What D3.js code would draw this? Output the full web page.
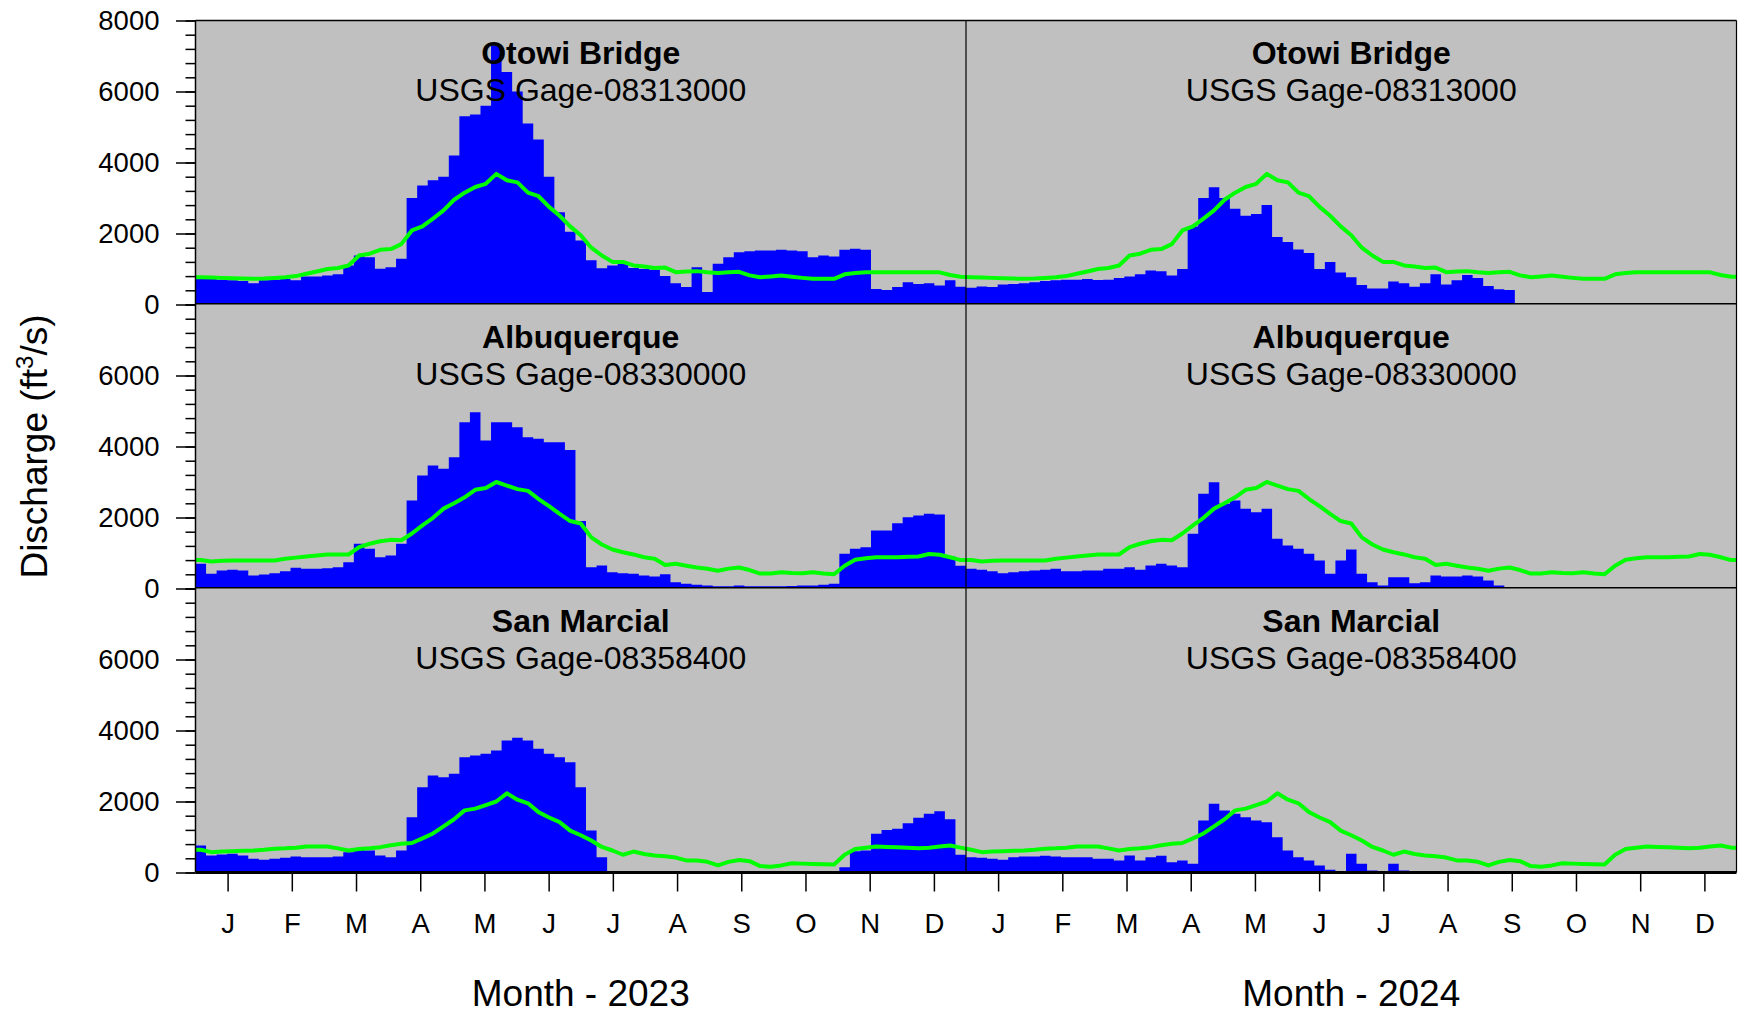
<!DOCTYPE html>
<html>
<head>
<meta charset="utf-8">
<script src="https://cdn.jsdelivr.net/npm/d3@7"></script>
<style>
  body { margin: 0; background: #fff; }
  svg { display: block; font-family: "Liberation Sans", Arial, sans-serif; }
</style>
</head>
<body>
<svg id="chart" width="1742" height="1016"></svg>
<script>
const years = ['2023', '2024'];
const months = ['J', 'F', 'M', 'A', 'M', 'J', 'J', 'A', 'S', 'O', 'N', 'D'];
const stations = ['Otowi Bridge', 'Albuquerque', 'San Marcial'];
const gages = ['USGS Gage-08313000', 'USGS Gage-08330000', 'USGS Gage-08358400'];
const yTicks = [0, 2000, 4000, 6000, 8000];

// 5-day discharge (ft3/s), 73 periods per year, null = no data
const otowi2023 = [720,720,700,680,660,600,680,700,720,680,
  790,790,820,850,1100,1380,1330,1010,1050,1290,
  3000,3350,3500,3600,4200,5300,5350,5600,7300,6550,
  6000,5100,4650,3600,2600,2050,1800,1250,1020,1100,
  1140,1030,1000,980,800,600,490,1050,350,1150,
  1330,1470,1500,1520,1520,1540,1520,1500,1330,1380,
  1350,1540,1570,1540,440,410,490,630,580,600,
  535,680,500];
const otowi2024 = [470,510,490,560,580,600,630,660,680,700,
  700,715,690,700,750,790,850,958,940,820,
  1000,2200,3000,3300,3000,2700,2500,2550,2800,1900,
  1760,1550,1450,1000,1200,900,770,550,450,450,
  650,600,500,600,850,560,680,830,750,520,
  430,410,null,null,null,null,null,null,null,null,
  null,null,null,null,null,null,null,null,null,null,
  null,null,null];
const albq2023 = [700,413,507,526,507,366,394,432,488,582,
  554,554,573,601,742,1258,1117,883,930,1258,
  2479,3183,3465,3371,3700,4686,4967,4169,4686,4686,
  4545,4263,4216,4122,4122,3900,1900,600,648,460,
  432,413,366,338,400,178,131,103,85,66,
  66,85,66,66,66,66,70,85,85,103,
  131,977,1117,1164,1634,1634,1840,2009,2056,2103,
  2085,900,640];
const albq2024 = [554,526,488,432,460,488,507,526,554,488,
  488,507,507,554,554,601,526,648,695,648,
  601,1540,2667,2995,2385,2479,2244,2150,2244,1399,
  1211,1117,977,789,413,789,1100,413,178,85,
  319,319,150,178,366,338,338,366,338,225,
  85,38,null,null,null,null,null,null,null,null,
  null,null,null,null,null,null,null,null,null,null,
  null,null,null];
const sanm2023 = [760,479,507,526,479,385,357,385,413,451,
  432,432,432,451,573,667,620,479,432,620,
  1559,2404,2732,2686,2779,3249,3296,3343,3437,3718,
  3794,3718,3484,3343,3249,3108,2404,1183,432,28,
  0,0,0,0,0,0,0,0,0,0,
  0,0,0,0,0,0,0,0,0,0,
  0,150,600,620,1089,1200,1230,1390,1540,1653,
  1728,1500,500];
const sanm2024 = [432,413,385,357,432,451,451,470,451,432,
  432,432,385,385,338,479,338,432,470,291,
  338,244,1465,1934,1747,1653,1559,1465,1418,995,
  620,432,338,197,75,9,526,244,56,0,
  244,56,10,0,0,0,0,0,0,0,
  0,0,null,null,null,null,null,null,null,null,
  null,null,null,null,null,null,null,null,null,null,
  null,null,null];

// long-term daily median (same curve drawn for each year), 5-day steps
const otowiMedian = [770,760,750,740,730,723,730,745,765,800,
  864,930,1000,1030,1100,1380,1430,1540,1560,1700,
  2085,2200,2420,2650,2950,3150,3310,3400,3680,3500,
  3440,3150,3050,2750,2500,2200,1950,1600,1380,1200,
  1200,1100,1070,1030,1040,910,930,940,910,890,
  910,920,820,770,790,815,780,750,725,723,
  723,850,890,910,910,910,910,910,910,910,
  905,830,780];
const albqMedian = [800,760,780,790,790,790,790,790,836,870,
  900,930,958,958,958,1164,1260,1330,1370,1360,
  1550,1780,1990,2250,2400,2570,2780,2830,3000,2900,
  2800,2750,2520,2320,2100,1900,1830,1440,1240,1100,
  1020,960,880,840,660,695,640,590,554,500,
  560,590,520,420,420,460,440,430,460,420,
  400,640,808,850,883,883,883,895,901,970,
  950,880,800];
const sanmMedian = [640,573,590,601,610,620,640,667,680,700,
  732,732,732,680,620,660,680,714,770,810,
  830,960,1100,1300,1500,1750,1800,1900,2000,2230,
  2050,1950,1700,1550,1418,1180,1050,900,720,620,
  500,590,520,480,460,420,340,338,300,200,
  300,350,320,180,160,200,260,250,240,230,
  225,500,660,700,732,720,714,700,685,700,
  732,760,700];

const flows = [[otowi2023, otowi2024], [albq2023, albq2024], [sanm2023, sanm2024]];
const medians = [otowiMedian, albqMedian, sanmMedian];

const plotLeft = 195.5, plotRight = 1736.5, plotTop = 20.5, panelH = 284;
const step = 5, yearDays = 365;
const plotBottom = plotTop + 3 * panelH;

const svg = d3.select('#chart');
const x = d3.scaleLinear().domain([0, 2 * yearDays]).range([plotLeft, plotRight]);

stations.forEach((name, k) => {
  const y0 = plotTop + k * panelH;
  const y = d3.scaleLinear().domain([0, 8000]).range([y0 + panelH, y0]);
  const g = svg.append('g');

  g.append('clipPath').attr('id', 'clip' + k)
    .append('rect').attr('x', plotLeft).attr('y', y0).attr('width', plotRight - plotLeft).attr('height', panelH);

  g.append('rect')
    .attr('x', plotLeft).attr('y', y0)
    .attr('width', plotRight - plotLeft).attr('height', panelH)
    .attr('fill', '#c0c0c0');

  // observed flow as steps
  const pts = [];
  flows[k].forEach((vals, j) => vals.forEach((v, i) => {
    const d = j * yearDays + i * step;
    pts.push({ d: d, v: v }, { d: Math.min(d + step, (j + 1) * yearDays), v: v });
  }));
  const area = d3.area()
    .defined(p => p.v != null)
    .x(p => x(p.d))
    .y0(y(0))
    .y1(p => y(p.v));
  g.append('path').datum(pts)
    .attr('clip-path', `url(#clip${k})`)
    .attr('fill', '#0000ff')
    .attr('d', area);

  // median line
  const med = [];
  years.forEach((yr, j) => medians[k].forEach((v, i) => {
    med.push({ d: j * yearDays + i * step + step / 2, v: v });
  }));
  med.unshift({ d: 0, v: medians[k][0] });
  med.push({ d: 2 * yearDays, v: medians[k][medians[k].length - 1] });
  const line = d3.line().x(p => x(p.d)).y(p => y(p.v));
  g.append('path').datum(med)
    .attr('clip-path', `url(#clip${k})`)
    .attr('fill', 'none')
    .attr('stroke', '#00ff00')
    .attr('stroke-width', 4)
    .attr('stroke-linejoin', 'round')
    .attr('d', line);

  // station titles
  years.forEach((yr, j) => {
    const cx = x(j * yearDays + yearDays / 2);
    g.append('text').attr('x', cx).attr('y', y0 + 43.5)
      .attr('text-anchor', 'middle').attr('font-size', 32).attr('font-weight', 'bold')
      .text(name);
    g.append('text').attr('x', cx).attr('y', y0 + 80)
      .attr('text-anchor', 'middle').attr('font-size', 32)
      .text(gages[k]);
  });

  // y axis, major and minor ticks
  const minor = g.append('g').attr('transform', `translate(${plotLeft},0)`)
    .call(d3.axisLeft(y).tickValues(d3.range(0, 8001, 400)).tickSize(10).tickFormat(''));
  const major = g.append('g').attr('transform', `translate(${plotLeft},0)`)
    .call(d3.axisLeft(y).tickValues(k === 0 ? yTicks : yTicks.slice(0, -1))
      .tickSize(19.5).tickPadding(16.5).tickFormat(d3.format('d')));
  [minor, major].forEach(a => {
    a.select('.domain').remove();
    a.selectAll('line').attr('stroke', '#000').attr('stroke-width', 1.5);
    a.selectAll('text').attr('font-size', 27.5).attr('font-family', null).attr('fill', '#000');
  });

  // zero line of the panel
  g.append('line')
    .attr('x1', plotLeft).attr('x2', plotRight)
    .attr('y1', y(0)).attr('y2', y(0))
    .attr('stroke', '#000').attr('stroke-width', 3);
});

// frame
const frame = svg.append('g').attr('stroke', '#000');
frame.append('line').attr('x1', plotLeft).attr('x2', plotRight).attr('y1', plotTop).attr('y2', plotTop).attr('stroke-width', 1.5);
frame.append('line').attr('x1', plotRight).attr('x2', plotRight).attr('y1', plotTop).attr('y2', plotBottom).attr('stroke-width', 1.2);
frame.append('line').attr('x1', plotLeft).attr('x2', plotLeft).attr('y1', plotTop).attr('y2', plotBottom).attr('stroke-width', 1.5);
frame.append('line').attr('x1', x(yearDays)).attr('x2', x(yearDays)).attr('y1', plotTop).attr('y2', plotBottom).attr('stroke-width', 1.2);

// month axis
const monthTicks = d3.range(24).map(m => (m + 0.5) * yearDays / 12);
const xAxis = svg.append('g').attr('transform', `translate(0,${plotBottom})`)
  .call(d3.axisBottom(x).tickValues(monthTicks).tickSize(19).tickPadding(22)
    .tickFormat((d, i) => months[i % 12]));
xAxis.select('.domain').remove();
xAxis.selectAll('line').attr('stroke', '#000').attr('stroke-width', 1.5);
xAxis.selectAll('text').attr('font-size', 27.5).attr('font-family', null).attr('fill', '#000');

years.forEach((yr, j) => {
  svg.append('text')
    .attr('x', x(j * yearDays + yearDays / 2)).attr('y', 1006)
    .attr('text-anchor', 'middle').attr('font-size', 37)
    .text('Month - ' + yr);
});

const yTitle = svg.append('text')
  .attr('transform', `translate(46.5,${(plotTop + plotBottom) / 2}) rotate(-90)`)
  .attr('text-anchor', 'middle').attr('font-size', 37);
yTitle.append('tspan').text('Discharge (ft');
yTitle.append('tspan').attr('font-size', 24).attr('dy', -14).text('3');
yTitle.append('tspan').attr('dy', 14).text('/s)');
</script>
</body>
</html>
